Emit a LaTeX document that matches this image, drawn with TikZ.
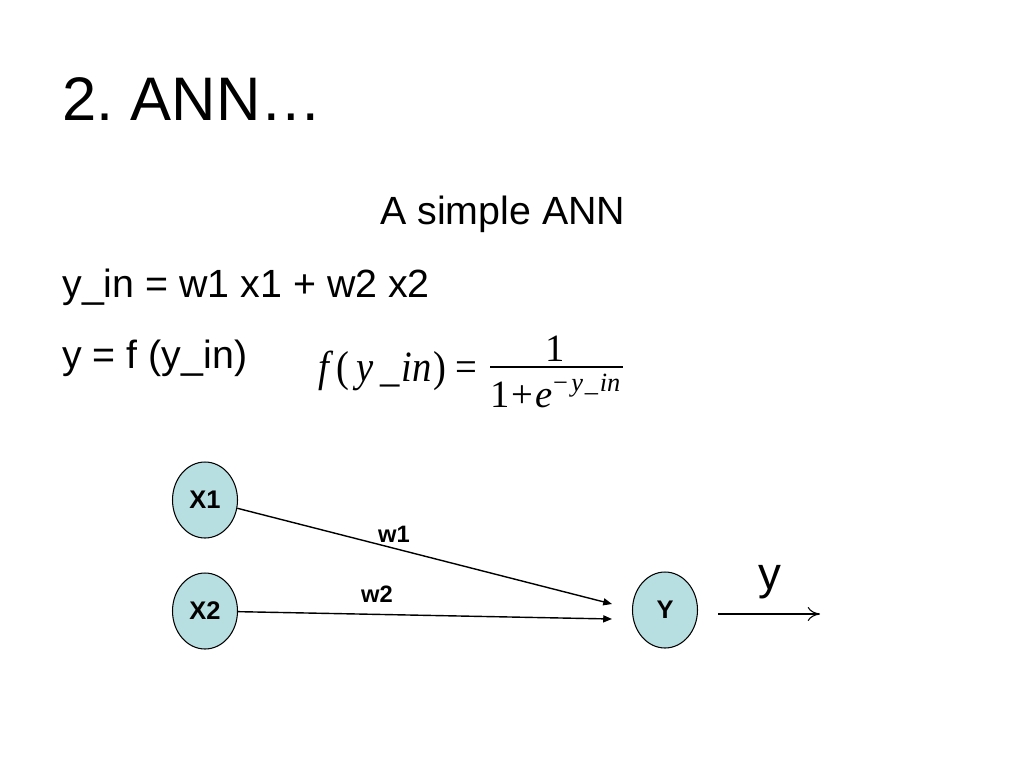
\documentclass[tikz,border=0pt]{standalone}
\usepackage{fontspec}
\usepackage{graphicx}
\setmainfont{Liberation Sans}
\newfontfamily\formfont{Liberation Serif}
\usetikzlibrary{arrows.meta,shapes.geometric}
\definecolor{cellblue}{RGB}{183,222,224}
\frenchspacing

\begin{document}
\begin{tikzpicture}
  [x=0.02cm,y=-0.02cm,
   neuron/.style={ellipse,draw,fill=cellblue,line width=0.6pt,minimum width=1.3cm,
                  minimum height=1.52cm,inner sep=0pt,font=\fontsize{14.5}{14.5}\selectfont\bfseries},
   wlabel/.style={font=\fontsize{13.5}{13.5}\selectfont\bfseries},
   body/.style={anchor=base west,inner sep=0pt,font=\fontsize{22.4}{22.4}\selectfont},
   form/.style={inner sep=0pt,font=\formfont\fontsize{22}{22}\selectfont},
   link/.style={line width=0.8pt,-{Triangle[length=5pt,width=4pt]}}]
  \useasboundingbox[fill=white] (0,0) rectangle (1024,768);
  % texts
  \node[anchor=base west,inner sep=0pt,font=\fontsize{35}{35}\selectfont] (title) at (62,120) {2. ANN…};
  \node[body] (caption) at (380,224) {A simple ANN};
  \node[body] (sum) at (62,297) {y\_in = w1 x1 + w2 x2};
  \node[body] (act) at (62,368) {y = f (y\_in)};
  % sigmoid
  \node[form,anchor=base west] (lhs) at (318,381)
    {\scalebox{1}[1.12]{\itshape f\hspace{4pt}\upshape(\hspace{4.5pt}\itshape y\hspace{3.7pt}\_\hspace{1pt}in\upshape\hspace{1pt})\hspace{5pt}=}};
  \node[form,anchor=base] (num) at (555,361) {1};
  \node[form,anchor=base west] (den) at (490,407)
    {1\hspace{1pt}+\hspace{1.5pt}\itshape e\raisebox{9pt}{\fontsize{15}{15}\selectfont\upshape−\hspace{2pt}\itshape y\hspace{1pt}\_\hspace{1pt}in}};
  \draw[line width=0.7pt] (490,367) -- (623,367);
  % network
  \node[neuron] (x1) at (205,500) {X1};
  \node[neuron] (x2) at (205,611) {X2};
  \node[neuron] (y) at (665,610) {Y};
  \coordinate (tip1) at (612,604);
  \coordinate (tip2) at (612,619);
  \coordinate (yout) at (820,614);
  \node[wlabel] (w1) at (394,534) {w1};
  \node[wlabel] (w2) at (377,594) {w2};
  \node[font=\fontsize{26}{26}\selectfont] (ylab) at (770,582) {y};

  \foreach \from/\to in {x1/tip1,x2/tip2}
    \draw[link] (\from) -- (\to);
  \draw[line width=0.6pt,shorten <=0.4cm,-{To[length=7pt,width=8pt]}] (y.east |- yout) -- (yout);

\end{tikzpicture}
\end{document}
